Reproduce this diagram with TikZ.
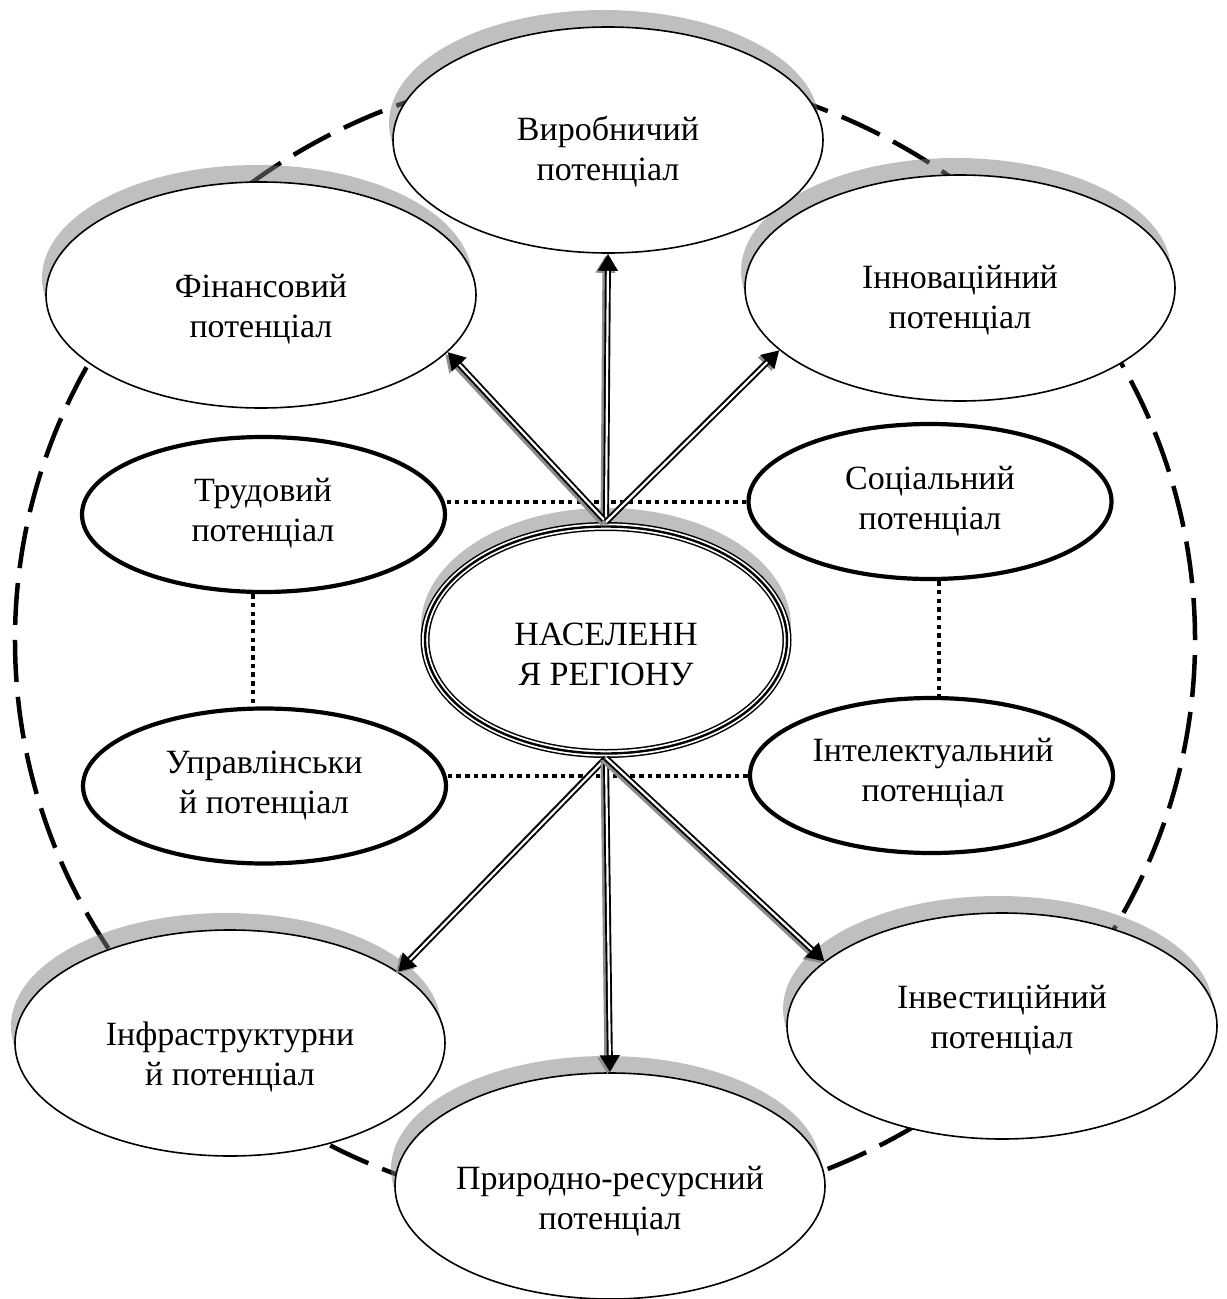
\documentclass[tikz,border=0pt]{standalone}
\usepackage{fontspec}
\setmainfont{Liberation Serif}
\usetikzlibrary{shapes.geometric,arrows.meta}
\begin{document}
\begin{tikzpicture}[x=1bp,y=-1bp,
  txt/.style={align=center, font=\fontsize{34bp}{40bp}\selectfont, inner sep=0pt},
  outerell/.style={ellipse, draw, line width=1.6bp, fill=white, inner sep=0pt,
    minimum width=430bp, minimum height=226bp},
  shadowfill/.style={fill=black!50, fill opacity=0.5},
  innerell/.style={ellipse, draw, line width=4.2bp, fill=white, inner sep=0pt,
    minimum width=363bp, minimum height=155bp},
  ringell/.style={ellipse, draw, line width=4.5bp, dash pattern=on 42bp off 15bp,
    inner sep=0pt, minimum width=1180bp, minimum height=1142bp},
  dotl/.style={line width=4bp, dash pattern=on 4.5bp off 4.2bp},
  arrtip/.style={-{Triangle[length=17bp,width=19bp]}},
  arrbody/.style={line width=6bp, arrtip},
  arrgap/.style={line width=2.2bp, draw=white, shorten >=17bp},
  arrsh/.style={line width=6bp, arrtip, draw=black!45,
    transform canvas={xshift=-2.5bp,yshift=-2bp}},
]
\useasboundingbox (0,0) rectangle (1226,1299);

% centres
\coordinate (c-inn) at (960,288);
\coordinate (c-fin) at (261,295);
\coordinate (c-vyr) at (608,140);
\coordinate (c-infra) at (230,1043);
\coordinate (c-prir) at (610,1186);
\coordinate (c-inv) at (1002,1026);
\coordinate (c-cen) at (606,640);

% outer dashed ring
\node[ringell] (ring) at (605,640) {};

% outer ellipses, each with its shadow
\fill[shadowfill] ([shift={(-4,-17)}]c-inn) ellipse [x radius=215, y radius=113];
\node[outerell] (inn) at (c-inn) {};
\fill[shadowfill] ([shift={(-4,-17)}]c-fin) ellipse [x radius=215, y radius=113];
\node[outerell] (fin) at (c-fin) {};
\fill[shadowfill] ([shift={(-4,-17)}]c-vyr) ellipse [x radius=215, y radius=113];
\node[outerell] (vyr) at (c-vyr) {};
\fill[shadowfill] ([shift={(-4,-17)}]c-infra) ellipse [x radius=215, y radius=113];
\node[outerell] (infra) at (c-infra) {};
\fill[shadowfill] ([shift={(-4,-17)}]c-prir) ellipse [x radius=215, y radius=113];
\node[outerell] (prir) at (c-prir) {};
\fill[shadowfill] ([shift={(-4,-17)}]c-inv) ellipse [x radius=215, y radius=113];
\node[outerell] (inv) at (c-inv) {};

% inner thick ellipses
\node[innerell] (trud) at (263.5,514.5) {};
\node[innerell] (soc) at (930,501.5) {};
\node[innerell] (upr) at (264.5,786) {};
\node[innerell] (int) at (931.5,775.5) {};

% central ellipse
\fill[shadowfill] ([shift={(0,-14)}]c-cen) ellipse [x radius=185, y radius=118];
\node[ellipse, inner sep=0pt, minimum width=362bp, minimum height=227bp,
  fill=white, draw, line width=9bp,
  postaction={draw=white, line width=6bp},
  postaction={draw=black, line width=2.4bp}] (cen) at (c-cen) {};

% texts
\node[txt] (vyr-t) at (608,152) {Виробничий\\потенціал};
\node[txt] (fin-t) at (261,309) {Фінансовий\\потенціал};
\node[txt] (inn-t) at (960,300) {Інноваційний\\потенціал};
\node[txt] (trud-t) at (263,513) {Трудовий\\потенціал};
\node[txt] (soc-t) at (930,501) {Соціальний\\потенціал};
\node[txt] (cen-t) at (606,654) {НАСЕЛЕНН\\Я РЕГІОНУ};
\node[txt] (upr-t) at (264,786) {Управлінськи\\й потенціал};
\node[txt] (int-t) at (933,773) {Інтелектуальний\\потенціал};
\node[txt] (infra-t) at (230,1057) {Інфраструктурни\\й потенціал};
\node[txt] (prir-t) at (610,1201) {Природно-ресурсний\\потенціал};
\node[txt] (inv-t) at (1002,1020) {Інвестиційний\\потенціал};

% dotted links
\draw[dotl] (soc.west) -- (soc.west -| trud.east);
\draw[dotl] (int.west) -- (int.west -| upr.east);
\draw[dotl] ([xshift=-11bp]trud.south) -- ([xshift=-11bp]trud.south |- upr.north);
\draw[dotl] ([xshift=9bp]soc.south) -- ([xshift=9bp]soc.south |- int.north);

% arrows
\foreach \a/\b in {cen.north/vyr.south, cen.north/fin.-17, cen.north/inn.-161,
                   cen.south/infra.23, cen.south/prir.north, cen.south/inv.160} {
  \draw[arrsh] (\a) -- (\b);
  \draw[arrbody] (\a) -- (\b);
  \draw[arrgap] (\a) -- (\b);
}
\end{tikzpicture}
\end{document}
